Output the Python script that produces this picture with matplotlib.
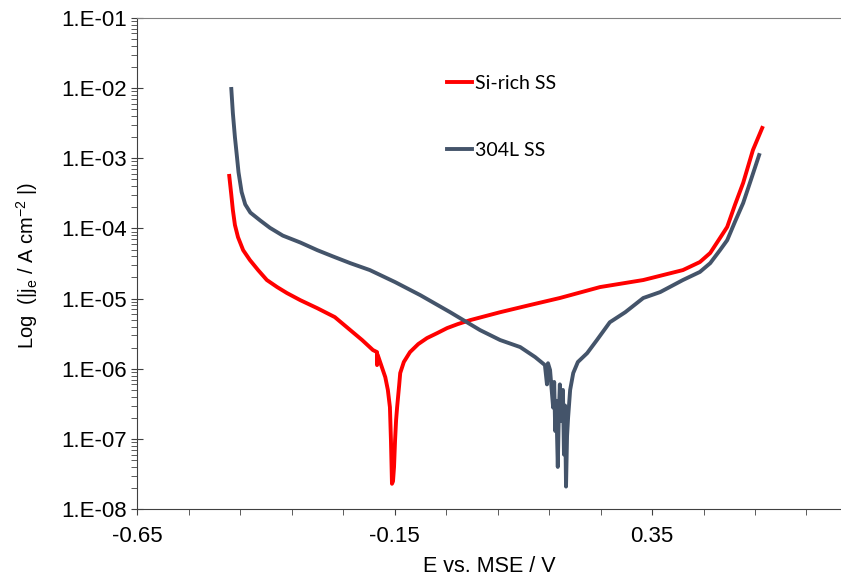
import numpy as np
import matplotlib
matplotlib.use("Agg")
import matplotlib.pyplot as plt
from matplotlib.ticker import FixedLocator, NullFormatter, FuncFormatter

# Si-rich SS (E in V vs MSE, |j| in A cm-2)
E_si = [-0.471, -0.467, -0.464, -0.460, -0.454, -0.444, -0.431, -0.415, -0.398, -0.378,
        -0.359, -0.333, -0.300, -0.266, -0.236, -0.213, -0.192, -0.184, -0.184, -0.183,
        -0.168, -0.163, -0.159, -0.157, -0.155, -0.153, -0.151, -0.149, -0.147, -0.145,
        -0.141, -0.139, -0.132, -0.120, -0.104, -0.087, -0.067, -0.048, -0.027, -0.003,
        0.055, 0.113, 0.171, 0.249, 0.333, 0.410, 0.443, 0.463, 0.482, 0.496,
        0.511, 0.527, 0.546, 0.564]
j_si = [5.6e-4, 3.0e-4, 1.83e-4, 1.12e-4, 7.5e-5, 4.9e-5, 3.55e-5, 2.55e-5, 1.84e-5, 1.46e-5,
        1.2e-5, 9.5e-6, 7.3e-6, 5.45e-6, 3.56e-6, 2.57e-6, 1.85e-6, 1.73e-6, 1.13e-6, 1.6e-6,
        7.6e-7, 5.0e-7, 2.84e-7, 9.6e-8, 2.3e-8, 2.5e-8, 4.0e-8, 9.6e-8, 1.86e-7, 2.84e-7,
        5.9e-7, 8.7e-7, 1.25e-6, 1.73e-6, 2.25e-6, 2.74e-6, 3.23e-6, 3.8e-6, 4.34e-6, 4.94e-6,
        6.4e-6, 8.1e-6, 1.02e-5, 1.46e-5, 1.84e-5, 2.55e-5, 3.32e-5, 4.47e-5, 7.3e-5, 1.05e-4,
        2.16e-4, 4.45e-4, 1.31e-3, 2.7e-3]

# 304L SS
E_304 = [-0.467, -0.464, -0.460, -0.456, -0.453, -0.447, -0.440, -0.430, -0.411, -0.392,
         -0.367, -0.333, -0.300, -0.270, -0.236, -0.198, -0.149, -0.100, -0.042, 0.016,
         0.055, 0.094, 0.123, 0.142, 0.146, 0.148, 0.152, 0.156, 0.158, 0.160,
         0.162, 0.164, 0.167, 0.169, 0.171, 0.173, 0.175, 0.177, 0.179, 0.181,
         0.183, 0.185, 0.187, 0.191, 0.197, 0.206, 0.224, 0.243, 0.268, 0.298,
         0.333, 0.366, 0.410, 0.443, 0.463, 0.482, 0.496, 0.511, 0.527, 0.542, 0.558]
j_304 = [9.7e-3, 4.4e-3, 2.0e-3, 1.04e-3, 6.3e-4, 3.3e-4, 2.2e-4, 1.68e-4, 1.3e-4, 1.02e-4,
         7.9e-5, 6.3e-5, 4.9e-5, 4.0e-5, 3.2e-5, 2.55e-5, 1.72e-5, 1.12e-5, 6.4e-6, 3.56e-6,
         2.57e-6, 2.04e-6, 1.47e-6, 1.13e-6, 6.0e-7, 1.2e-6, 9.6e-7, 4.2e-7, 2.8e-7, 6.5e-7,
         1.3e-7, 3.5e-7, 4.0e-8, 2.2e-7, 6.0e-7, 1.8e-7, 2.2e-7, 5.0e-7, 6.0e-8, 3.0e-7,
         2.1e-8, 1.1e-7, 2.0e-7, 5.0e-7, 8.7e-7, 1.25e-6, 1.67e-6, 2.57e-6, 4.6e-6, 6.4e-6,
         1.02e-5, 1.24e-5, 1.84e-5, 2.4e-5, 3.2e-5, 4.9e-5, 6.8e-5, 1.24e-4, 2.3e-4, 4.9e-4, 1.11e-3]

x_major = [-0.65, -0.15, 0.35]
x_minor = [-0.55, -0.45, -0.35, -0.25, -0.05, 0.05, 0.15, 0.25, 0.45, 0.55, 0.65]
y_major = [1e-8, 1e-7, 1e-6, 1e-5, 1e-4, 1e-3, 1e-2, 1e-1]
y_labels = ['1.E-08', '1.E-07', '1.E-06', '1.E-05', '1.E-04', '1.E-03', '1.E-02', '1.E-01']

fig = plt.figure(figsize=(8.41, 5.76), dpi=100)
ax = fig.add_axes([0.163, 0.116, 0.837, 0.853])

ax.plot(E_si, j_si, color='#FF0000', lw=2.8, label='Si-rich SS', solid_joinstyle='round')
ax.plot(E_304, j_304, color='#44546A', lw=2.8, label='304L SS', solid_joinstyle='round')

ax.set_yscale('log')
ax.set_ylim(1e-8, 1e-1)
ax.set_xlim(-0.65, 0.717)

ax.xaxis.set_major_locator(FixedLocator(x_major))
ax.xaxis.set_minor_locator(FixedLocator(x_minor))
ax.xaxis.set_major_formatter(FuncFormatter(lambda v, p: f'{v:.2f}'))
ax.set_yticks(y_major)
ax.set_yticklabels(y_labels)
y_minor = [m * d for d in y_major[:-1] for m in range(2, 10)]
ax.yaxis.set_minor_locator(FixedLocator(y_minor))
ax.yaxis.set_minor_formatter(NullFormatter())

ax.tick_params(axis='x', which='both', direction='out', length=4, color='#404040', labelsize=16, pad=8)
ax.tick_params(axis='y', which='major', direction='inout', length=9, color='#404040', labelsize=16, pad=3)
ax.tick_params(axis='y', which='minor', direction='out', length=4, color='#404040')

for lab in ax.get_xticklabels() + ax.get_yticklabels():
    lab.set_fontfamily('Liberation Sans')

ax.spines['right'].set_visible(False)
ax.spines['top'].set_color('#808080')
ax.spines['left'].set_color('#404040')
ax.spines['bottom'].set_color('#404040')

ax.set_xlabel('E vs. MSE / V', fontsize=15.5, family='Liberation Sans')
ax.xaxis.set_label_coords(0.5, -0.095)
ax.set_ylabel(r'Log  (|j$_\mathregular{e}$ / A cm$^\mathregular{-2}$ |)', fontsize=14.5, family='Liberation Sans')
ax.yaxis.set_label_coords(-0.138, 0.497)

leg = ax.legend(loc='upper left', bbox_to_anchor=(0.415, 0.92), frameon=False,
                prop={'family': 'Lato', 'size': 14}, handlelength=1.3, handletextpad=0.15,
                labelspacing=2.6)

fig.savefig('out.png', dpi=100)
